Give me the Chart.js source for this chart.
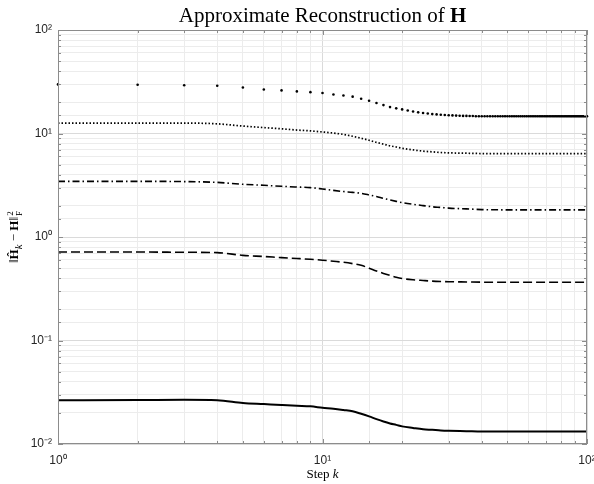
<!DOCTYPE html>
<html>
<head>
<meta charset="utf-8">
<script src="https://cdn.jsdelivr.net/npm/chart.js@4.4.0/dist/chart.umd.min.js"></script>
<style>
  body { margin: 0; background: #fff; }
  #wrap { position: relative; width: 594px; height: 484px; }
  .lbl { position: absolute; font-family: "Liberation Serif", "DejaVu Serif", serif; color: #000; white-space: nowrap; }
  #title { left: 58px; width: 529px; top: 2px; text-align: center; font-size: 21px; line-height: 26px; }
  #title b { font-weight: bold; }
  #xlab { left: 58px; width: 529px; top: 466px; text-align: center; font-size: 13px; line-height: 16px; }
  #ylab { left: -86px; top: 227px; width: 200px; height: 20px; line-height: 20px; text-align: center; font-size: 13px; transform: rotate(-90deg); }
  .ss { display: inline-flex; flex-direction: column; vertical-align: middle; font-size: 9px; line-height: 9px; margin-left: 1px; }
</style>
</head>
<body>
<div id="wrap">
  <canvas id="errChart" width="594" height="484"></canvas>
  <div class="lbl" id="title">Approximate Reconstruction of <b>H</b></div>
  <div class="lbl" id="ylab">&#8214;<b>&#292;</b><sub><i>k</i></sub> &minus; <b>H</b>&#8214;<span class="ss"><span>2</span><span>F</span></span></div>
  <div class="lbl" id="xlab">Step <i>k</i></div>
</div>
<script>
// steps for the marker series (every k)
const steps = [
  1, 2, 3, 4, 5, 6, 7, 8, 9, 10,
  11, 12, 13, 14, 15, 16, 17, 18, 19, 20,
  21, 22, 23, 24, 25, 26, 27, 28, 29, 30,
  31, 32, 33, 34, 35, 36, 37, 38, 39, 40,
  41, 42, 43, 44, 45, 46, 47, 48, 49, 50,
  51, 52, 53, 54, 55, 56, 57, 58, 59, 60,
  61, 62, 63, 64, 65, 66, 67, 68, 69, 70,
  71, 72, 73, 74, 75, 76, 77, 78, 79, 80,
  81, 82, 83, 84, 85, 86, 87, 88, 89, 90,
  91, 92, 93, 94, 95, 96, 97, 98, 99, 100
];
const errDots = [
  29.8, 29.6, 29.3, 28.9, 27.8, 26.6, 26.1, 25.5, 25.1, 24.6,
  23.8, 23.3, 22.7, 21.7, 20.7, 19.7, 18.8, 18.0, 17.5, 17.1,
  16.7, 16.3, 16.0, 15.8, 15.6, 15.4, 15.3, 15.2, 15.1, 15.0,
  14.95, 14.9, 14.85, 14.8, 14.8, 14.75, 14.75, 14.7, 14.7, 14.7,
  14.7, 14.7, 14.7, 14.7, 14.7, 14.7, 14.7, 14.7, 14.7, 14.7,
  14.7, 14.7, 14.7, 14.7, 14.7, 14.7, 14.7, 14.7, 14.7, 14.7,
  14.7, 14.7, 14.7, 14.7, 14.7, 14.7, 14.7, 14.7, 14.7, 14.7,
  14.7, 14.7, 14.7, 14.7, 14.7, 14.7, 14.7, 14.7, 14.7, 14.7,
  14.7, 14.7, 14.7, 14.7, 14.7, 14.7, 14.7, 14.7, 14.7, 14.7,
  14.7, 14.7, 14.7, 14.7, 14.7, 14.7, 14.7, 14.7, 14.7, 14.7
];

// steps for the line series
const stepsLine = [1, 2, 3, 4, 5, 6, 7, 8, 9, 10, 11, 12, 13, 14, 15, 16, 17, 18, 19, 20,
  22, 24, 26, 28, 30, 35, 40, 50, 60, 70, 80, 90, 100];
const errDotted = [12.6, 12.6, 12.6, 12.4, 11.8, 11.4, 11.1, 10.8, 10.6, 10.35, 10.1, 9.8, 9.4, 9.0, 8.6, 8.2, 7.9, 7.6, 7.4, 7.2,
  6.95, 6.75, 6.65, 6.55, 6.5, 6.45, 6.4, 6.38, 6.38, 6.38, 6.38, 6.38, 6.38];
const errDashDot = [3.45, 3.45, 3.43, 3.37, 3.23, 3.16, 3.09, 3.04, 3.0, 2.91, 2.82, 2.75, 2.7, 2.64, 2.55, 2.46, 2.36, 2.28, 2.21, 2.15,
  2.07, 2.01, 1.96, 1.93, 1.9, 1.87, 1.84, 1.83, 1.83, 1.83, 1.83, 1.83, 1.83];
const errDashed = [0.716, 0.716, 0.712, 0.706, 0.665, 0.648, 0.632, 0.62, 0.609, 0.597, 0.583, 0.57, 0.553, 0.533, 0.5, 0.47, 0.445, 0.425, 0.408, 0.397,
  0.386, 0.38, 0.375, 0.372, 0.37, 0.368, 0.366, 0.366, 0.366, 0.366, 0.366, 0.366, 0.366];
const errSolid = [0.0265, 0.0266, 0.0267, 0.0265, 0.0249, 0.0243, 0.0238, 0.0234, 0.0231, 0.0224, 0.0219, 0.0213, 0.0207, 0.0196, 0.0185, 0.0174, 0.0165, 0.0158, 0.0153, 0.0148,
  0.0143, 0.0139, 0.0137, 0.0135, 0.0134, 0.0133, 0.0132, 0.0132, 0.0132, 0.0132, 0.0132, 0.0132, 0.0132];

function pairs(xs, ys) {
  return xs.map((x, i) => ({ x: x, y: ys[i] }));
}

function isDecade(v) {
  const e = Math.log10(v);
  return Math.abs(e - Math.round(e)) < 1e-6;
}

const supMap = { '-': '\u207B', '0': '\u2070', '1': '\u00B9', '2': '\u00B2', '3': '\u00B3' };
function decadeLabel(v) {
  if (!isDecade(v)) return '';
  const e = String(Math.round(Math.log10(v)));
  return '10' + e.split('').map(c => supMap[c]).join('');
}

// box around the axes plus inward tick marks, MATLAB style
const axesBox = {
  id: 'axesBox',
  afterDraw(chart) {
    const { ctx, chartArea: a, scales } = chart;
    ctx.save();
    ctx.strokeStyle = '#8c8c8c';
    ctx.lineWidth = 1;
    scales.x.ticks.forEach(t => {
      const px = Math.round(scales.x.getPixelForValue(t.value)) + 0.5;
      const len = isDecade(t.value) ? 5 : 3;
      ctx.beginPath();
      ctx.moveTo(px, a.bottom); ctx.lineTo(px, a.bottom - len);
      ctx.moveTo(px, a.top); ctx.lineTo(px, a.top + len);
      ctx.stroke();
    });
    scales.y.ticks.forEach(t => {
      const py = Math.round(scales.y.getPixelForValue(t.value)) + 0.5;
      const len = isDecade(t.value) ? 5 : 3;
      ctx.beginPath();
      ctx.moveTo(a.left, py); ctx.lineTo(a.left + len, py);
      ctx.moveTo(a.right, py); ctx.lineTo(a.right - len, py);
      ctx.stroke();
    });
    ctx.strokeRect(Math.round(a.left) + 0.5, Math.round(a.top) + 0.5,
      Math.round(a.right - a.left) - 1, Math.round(a.bottom - a.top) - 1);
    ctx.restore();
  }
};

const gridColor = ctx => isDecade(ctx.tick.value) ? '#dadada' : '#ececec';
const tickFont = { family: '"Liberation Sans", Arial, sans-serif', size: 12 };

new Chart(document.getElementById('errChart'), {
  type: 'line',
  data: {
    datasets: [
      {
        data: pairs(steps, errDots),
        showLine: false,
        clip: 4,
        pointRadius: 1.3,
        pointBackgroundColor: '#000',
        pointBorderWidth: 0
      },
      {
        data: pairs(stepsLine, errDotted),
        borderColor: '#000',
        borderWidth: 1.7,
        borderDash: [1.5, 2],
        pointRadius: 0,
        cubicInterpolationMode: 'monotone'
      },
      {
        data: pairs(stepsLine, errDashDot),
        borderColor: '#000',
        borderWidth: 1.6,
        borderDash: [7, 3, 1.5, 3],
        pointRadius: 0,
        cubicInterpolationMode: 'monotone'
      },
      {
        data: pairs(stepsLine, errDashed),
        borderColor: '#000',
        borderWidth: 1.6,
        borderDash: [9, 4],
        pointRadius: 0,
        cubicInterpolationMode: 'monotone'
      },
      {
        data: pairs(stepsLine, errSolid),
        borderColor: '#000',
        borderWidth: 2,
        pointRadius: 0,
        cubicInterpolationMode: 'monotone'
      }
    ]
  },
  options: {
    responsive: false,
    devicePixelRatio: 1,
    animation: false,
    layout: { padding: { top: 30, right: 7, bottom: 0, left: 0 } },
    plugins: { legend: { display: false }, tooltip: { enabled: false } },
    scales: {
      x: {
        type: 'logarithmic',
        min: 1,
        max: 100,
        grid: { color: gridColor, drawTicks: false },
        border: { display: false },
        ticks: { autoSkip: false, maxRotation: 0, padding: 9, color: '#262626', font: tickFont, callback: decadeLabel },
        afterFit(scale) { scale.height = 40; scale.paddingLeft = 0; scale.paddingRight = 0; }
      },
      y: {
        type: 'logarithmic',
        min: 0.01,
        max: 100,
        grid: { color: gridColor, drawTicks: false },
        border: { display: false },
        ticks: { autoSkip: false, padding: 6, color: '#262626', font: tickFont, callback: decadeLabel },
        afterFit(scale) { scale.width = 58; scale.paddingTop = 0; scale.paddingBottom = 0; }
      }
    }
  },
  plugins: [axesBox]
});
</script>
</body>
</html>
